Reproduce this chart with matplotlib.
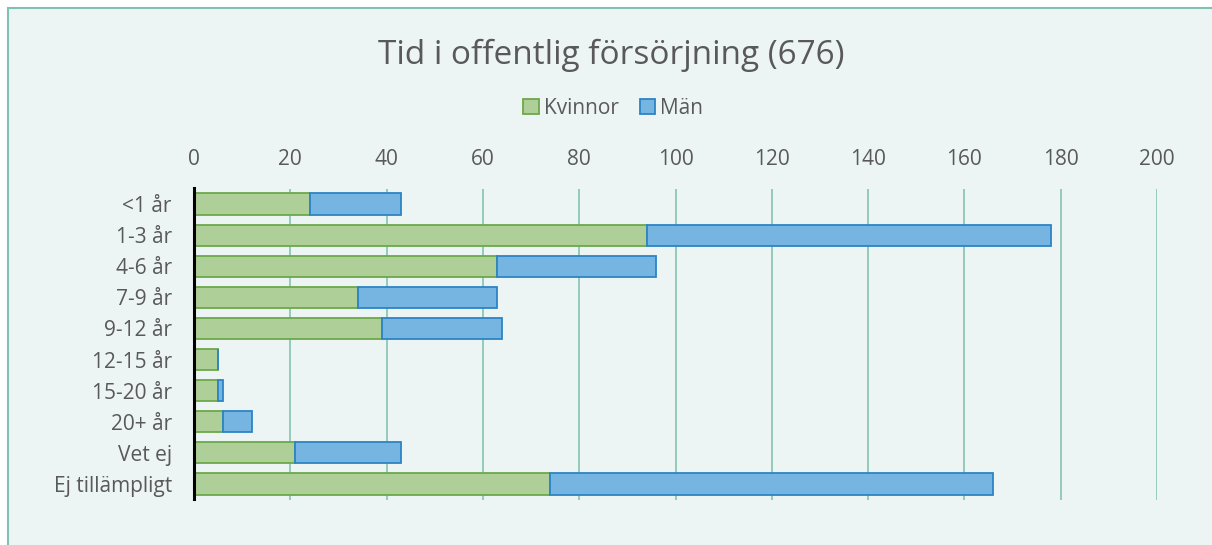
import matplotlib
matplotlib.use("Agg")
from matplotlib import pyplot as plt
from matplotlib.patches import Rectangle

# Data
categories = ["<1 år", "1-3 år", "4-6 år", "7-9 år", "9-12 år",
              "12-15 år", "15-20 år", "20+ år", "Vet ej", "Ej tillämpligt"]
kvinnor = [24, 94, 63, 34, 39, 5, 5, 6, 21, 74]
man = [19, 84, 33, 29, 25, 0, 1, 6, 22, 92]
x_ticks = [0, 20, 40, 60, 80, 100, 120, 140, 160, 180, 200]

bg = "#EDF5F4"
text_col = "#595959"
green_fill, green_edge = "#AECF98", "#6DA84A"
blue_fill, blue_edge = "#76B4E2", "#2C84C6"

plt.rcParams['font.family'] = ['Open Sans', 'DejaVu Sans']

fig = plt.figure(figsize=(12.12, 5.45), dpi=100, facecolor="white")
# chart area background with teal border
fig.patches.append(Rectangle((8 / 1212, -0.05), 1.1, 1 - 8 / 545 + 0.05,
                             transform=fig.transFigure, facecolor=bg,
                             edgecolor="#7FC2B4", linewidth=1.5, zorder=-10))

ax = fig.add_axes([194 / 1212, 1 - 499.5 / 545, (1157 - 194) / 1212, (499.5 - 188.5) / 545])
ax.set_facecolor("none")

y = list(range(len(categories)))
ax.barh(y, kvinnor, height=0.68, color=green_fill, edgecolor=green_edge,
        linewidth=1.3, label="Kvinnor", zorder=3)
ax.barh(y, man, left=kvinnor, height=0.68, color=blue_fill, edgecolor=blue_edge,
        linewidth=1.3, label="Män", zorder=3)

ax.set_xlim(0, 200)
ax.set_ylim(len(categories) - 0.5, -0.5)
ax.set_xticks(x_ticks)
ax.xaxis.tick_top()
ax.tick_params(axis="x", length=0, pad=13, labelsize=15, labelcolor=text_col)
ax.tick_params(axis="y", length=0, pad=16, labelsize=15, labelcolor=text_col)
ax.set_yticks(y)
ax.set_yticklabels(categories)

ax.grid(axis="x", color="#8CC7BA", linewidth=1.3, zorder=1)
ax.grid(axis="y", visible=False)
ax.set_axisbelow(True)
for s in ["top", "right", "bottom"]:
    ax.spines[s].set_visible(False)
ax.spines["left"].set_color("black")
ax.spines["left"].set_linewidth(2.2)
ax.spines["left"].set_zorder(4)

fig.text(0.504, 1 - 55 / 545, "Tid i offentlig försörjning (676)", ha="center",
         va="center", fontsize=24, color=text_col)
fig.legend(loc="center", bbox_to_anchor=(0.506, 1 - 108 / 545), ncol=2,
           frameon=False, fontsize=15, labelcolor=text_col, handlelength=0.75,
           handleheight=0.75, handletextpad=0.25, columnspacing=1.0)

fig.savefig("out.png", dpi=100, facecolor="white")
